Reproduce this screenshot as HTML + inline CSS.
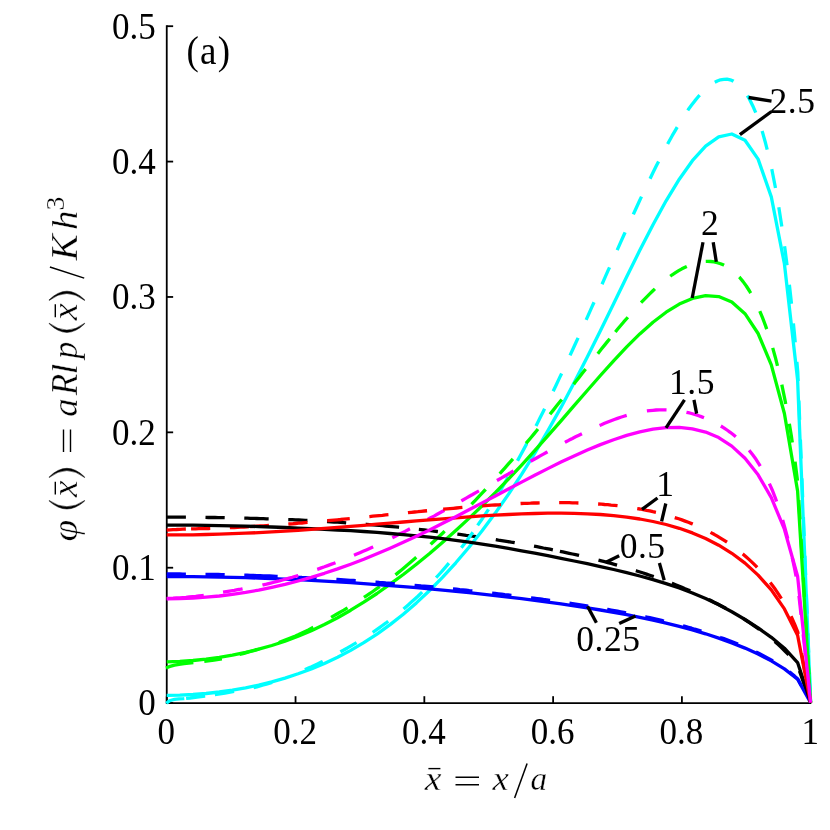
<!DOCTYPE html><html><head><meta charset="utf-8"><style>html,body{margin:0;padding:0;background:#fff}svg{display:block}</style></head><body><svg width="830" height="830" viewBox="0 0 830 830">
<rect width="830" height="830" fill="#fff"/>
<g stroke="#000" stroke-width="1.8" fill="none">
<path d="M166.75,25.3V703.1H811.3"/>
<path d="M166.75,703.10h6.4"/>
<path d="M166.75,567.72h6.4"/>
<path d="M166.75,432.34h6.4"/>
<path d="M166.75,296.96h6.4"/>
<path d="M166.75,161.58h6.4"/>
<path d="M166.75,26.20h6.4"/>
<path d="M166.75,703.1v-6.9"/>
<path d="M295.54,703.1v-6.9"/>
<path d="M424.33,703.1v-6.9"/>
<path d="M553.12,703.1v-6.9"/>
<path d="M681.91,703.1v-6.9"/>
<path d="M810.70,703.1v-6.9"/>
</g>
<g>
<polyline points="166.7,517.2 169.9,517.2 173.1,517.2 176.4,517.2 179.6,517.2 182.8,517.2 186.0,517.2 189.2,517.3 192.5,517.3 195.7,517.3 198.9,517.3 202.1,517.4 205.3,517.4 208.6,517.5 211.8,517.5 215.0,517.5 218.2,517.6 221.4,517.6 224.7,517.7 227.9,517.8 231.1,517.8 234.3,517.9 237.5,518.0 240.8,518.0 244.0,518.1 247.2,518.2 250.4,518.3 253.6,518.4 256.9,518.5 260.1,518.6 263.3,518.7 266.5,518.8 269.7,518.9 273.0,519.0 276.2,519.1 279.4,519.2 282.6,519.3 285.8,519.5 289.1,519.6 292.3,519.7 295.5,519.9 298.7,520.0 301.9,520.2 305.2,520.4 308.4,520.5 311.6,520.7 314.8,520.9 318.0,521.0 321.3,521.2 324.5,521.4 327.7,521.6 330.9,521.8 334.1,522.0 337.4,522.2 340.6,522.4 343.8,522.6 347.0,522.9 350.2,523.1 353.5,523.3 356.7,523.6 359.9,523.8 363.1,524.1 366.3,524.3 369.6,524.6 372.8,524.9 376.0,525.1 379.2,525.4 382.4,525.7 385.7,526.0 388.9,526.3 392.1,526.6 395.3,526.9 398.5,527.2 401.8,527.6 405.0,527.9 408.2,528.2 411.4,528.6 414.6,528.9 417.9,529.3 421.1,529.6 424.3,530.0 427.5,530.4 430.7,530.7 434.0,531.1 437.2,531.5 440.4,531.9 443.6,532.3 446.8,532.7 450.1,533.1 453.3,533.5 456.5,534.0 459.7,534.4 462.9,534.8 466.2,535.3 469.4,535.7 472.6,536.2 475.8,536.6 479.0,537.1 482.3,537.6 485.5,538.1 488.7,538.5 491.9,539.0 495.1,539.5 498.4,540.1 501.6,540.6 504.8,541.1 508.0,541.6 511.2,542.2 514.5,542.7 517.7,543.3 520.9,543.8 524.1,544.4 527.3,545.0 530.6,545.5 533.8,546.1 537.0,546.7 540.2,547.3 543.4,548.0 546.7,548.6 549.9,549.2 553.1,549.9 556.3,550.5 559.5,551.2 562.8,551.9 566.0,552.6 569.2,553.3 572.4,554.0 575.6,554.7 578.9,555.4 582.1,556.2 585.3,556.9 588.5,557.7 591.7,558.5 595.0,559.3 598.2,560.1 601.4,560.9 604.6,561.7 607.8,562.6 611.1,563.4 614.3,564.3 617.5,565.2 620.7,566.1 623.9,567.1 627.2,568.0 630.4,569.0 633.6,570.0 636.8,571.0 640.0,572.0 643.3,573.0 646.5,574.1 649.7,575.2 652.9,576.3 656.1,577.4 659.4,578.6 662.6,579.8 665.8,581.0 669.0,582.2 672.2,583.4 675.5,584.7 678.7,586.0 681.9,587.3 685.1,588.7 688.3,590.0 691.6,591.4 694.8,592.9 698.0,594.4 701.2,595.8 704.4,597.4 707.7,598.9 710.9,600.5 714.1,602.2 717.3,603.8 720.5,605.5 723.8,607.3 727.0,609.0 730.2,610.8 733.4,612.7 736.6,614.6 739.9,616.6 743.1,618.5 746.3,620.6 749.5,622.7 752.7,624.8 756.0,627.1 759.2,629.3 762.4,631.7 765.6,634.1 768.8,636.7 772.1,639.3 775.3,642.0 778.5,644.8 781.7,647.8 784.9,651.0 788.2,654.3 791.4,657.9 794.6,661.8 797.8,666.2 810.6,702.6" fill="none" stroke="#000000" stroke-width="3.3" stroke-linejoin="round" stroke-dasharray="19.2 19.6 19.2 19.6 24.4 19.6 19.2 19.6 19.2 19.6 33.5 19.9 19.2 19.6 19.2 19.6 19.2 19.6 19.2 7.2 19.6 20.0 19.2 19.6 18.9 19.3 19.9 20.3 19.7 20.1 19.2 19.6 19.2 19.6 19.2 1000.0"/>
<polyline points="166.7,695.4 179.8,695.2 193.0,694.5 206.1,693.5 219.3,692.0 232.4,690.2 245.6,687.8 258.7,685.1 271.8,681.8 285.0,678.1 298.1,673.8 311.3,669.0 324.4,663.5 337.6,657.3 350.7,650.4 363.8,642.6 377.0,634.1 390.1,624.6 403.3,614.2 416.4,602.9 429.6,590.5 442.7,577.2 455.8,562.8 469.0,547.3 482.1,530.8 495.3,513.1 508.4,494.4 521.6,474.4 534.7,453.3 547.8,430.9 561.0,407.4 574.1,382.7 587.3,357.1 600.4,330.7 613.6,303.8 626.7,276.8 639.8,250.3 653.0,224.7 666.1,200.8 679.3,179.2 692.4,160.7 705.6,146.2 718.7,136.8 731.8,134.0 745.0,140.2 758.1,159.1 771.3,196.9 784.4,263.8 797.6,379.7 810.6,702.6" fill="none" stroke="#00ffff" stroke-width="3.3" stroke-linejoin="round"/>
<polyline points="166.6,703.7 167.6,702.2 169.6,700.8 172.0,700.0 174.5,699.4 179.0,698.9 183.6,698.6 190.0,698.0 197.0,697.1 204.8,696.0 214.9,694.6 225.0,693.0 234.2,691.4 240.8,690.4 244.0,689.7 247.2,689.1 250.4,688.4 253.6,687.6 256.9,686.8 260.1,685.9 263.3,685.0 266.5,684.1 269.7,683.2 273.0,682.1 276.2,681.1 279.4,679.9 282.6,678.8 285.8,677.6 289.1,676.4 292.3,675.1 295.5,673.7 298.7,672.4 301.9,670.9 305.2,669.5 308.4,668.1 311.6,666.7 314.8,665.2 318.0,663.7 321.3,662.1 324.5,660.5 327.7,658.8 330.9,657.1 334.1,655.4 337.4,653.6 340.6,651.7 343.8,650.0 347.0,648.2 350.2,646.3 353.5,644.4 356.7,642.5 359.9,640.6 363.1,638.6 366.3,636.5 369.6,634.4 372.8,632.3 376.0,630.1 379.2,627.8 382.4,625.5 385.7,623.2 388.9,620.7 392.1,618.3 395.3,615.7 398.5,613.1 401.8,610.5 405.0,607.7 408.2,604.9 411.4,602.1 414.6,599.2 417.9,596.2 421.1,593.1 424.3,589.9 427.5,586.7 430.7,583.4 434.0,580.0 437.2,576.5 440.4,573.0 443.6,569.3 446.8,565.6 450.1,561.8 453.3,557.9 456.5,553.9 459.7,549.8 462.9,545.7 466.2,541.4 469.4,537.1 472.6,532.6 475.8,528.1 479.0,523.4 482.3,518.7 485.5,513.9 488.7,509.0 491.9,503.9 495.1,498.8 498.4,493.6 501.6,488.3 504.8,482.9 508.0,477.4 511.2,471.8 514.5,466.2 517.7,460.4 520.9,454.5 524.1,448.6 527.3,442.6 530.6,436.5 533.8,430.3 537.0,424.0 540.2,417.6 543.4,411.2 546.7,404.7 549.9,398.1 553.1,391.4 556.3,384.7 559.5,377.9 562.8,371.1 566.0,364.2 569.2,357.2 572.4,350.2 575.6,343.2 578.9,336.1 582.1,329.0 585.3,321.8 588.5,314.6 591.7,307.4 595.0,300.2 598.2,292.9 601.4,285.7 604.6,278.4 607.8,271.1 611.1,263.9 614.3,256.6 617.5,249.4 620.7,242.2 623.9,235.0 627.2,227.8 630.4,220.7 633.6,213.7 636.8,206.7 640.0,199.7 643.3,192.9 646.5,186.1 649.7,179.4 652.9,172.8 656.1,166.3 659.4,159.9 662.6,153.6 665.8,147.5 669.0,141.5 672.2,135.7 675.5,130.1 678.7,124.7 681.9,119.4 685.1,114.4 688.3,109.6 691.6,105.1 694.8,100.9 698.0,97.0 701.2,93.3 704.4,90.1 707.7,87.2 710.9,84.6 714.1,82.6 717.3,81.0 720.5,79.8 723.8,79.3 727.0,79.2 730.2,79.8 733.4,81.1 736.6,83.1 739.9,85.8 743.1,89.4 746.3,93.8 749.5,99.2 752.7,105.7 756.0,113.2 759.2,121.9 762.4,131.9 765.6,143.3 768.8,156.2 772.1,170.7 775.3,187.0 778.5,205.3 781.7,225.8 784.9,248.6 788.2,274.2 791.4,302.9 794.6,335.4 797.8,372.5 810.6,702.6" fill="none" stroke="#00ffff" stroke-width="3.3" stroke-linejoin="round" stroke-dasharray="19.2 1.8 19.2 9.8 19.5 19.9 19.2 35.2 19.7 20.1 18.6 19.0 19.2 19.6 25.2 20.0 19.4 19.8 19.2 8.4 19.5 19.9 18.1 18.5 19.5 19.9 19.2 19.6 19.6 20.0 19.3 19.7 19.3 19.7 18.5 18.9 19.4 19.8 19.5 19.9 19.2 19.6 19.4 19.8 19.5 19.9 19.7 20.1 19.0 19.4 19.5 19.9 19.2 19.6 19.5 19.9 19.2 19.6 19.2 19.6 19.2 19.6 19.2 19.6 19.2 19.6 19.2 19.6 19.2 19.6 19.2 19.6 19.2 19.6 19.2 19.6 19.2 19.6 19.2 1000.0"/>
<polyline points="166.7,661.8 179.8,661.3 193.0,660.5 206.1,659.2 219.3,657.4 232.4,655.1 245.6,652.3 258.7,649.2 271.8,645.5 285.0,641.2 298.1,636.3 311.3,630.7 324.4,624.5 337.6,617.7 350.7,610.2 363.8,602.1 377.0,593.5 390.1,584.2 403.3,574.5 416.4,564.2 429.6,553.5 442.7,542.2 455.8,530.5 469.0,518.4 482.1,505.8 495.3,492.7 508.4,479.1 521.6,465.1 534.7,450.7 547.8,435.9 561.0,420.9 574.1,405.7 587.3,390.5 600.4,375.5 613.6,360.8 626.7,346.9 639.8,333.9 653.0,322.2 666.1,312.2 679.3,304.1 692.4,298.4 705.6,295.7 718.7,296.6 731.8,302.1 745.0,313.7 758.1,333.5 771.3,364.9 784.4,413.5 797.6,491.0 810.6,702.6" fill="none" stroke="#00ff00" stroke-width="3.3" stroke-linejoin="round"/>
<polyline points="166.0,668.0 167.8,667.2 170.0,666.4 174.5,665.2 179.0,664.4 184.1,663.7 193.7,662.6 204.3,661.3 214.0,660.0 222.7,658.8 231.1,656.5 234.3,655.7 237.5,654.9 240.8,654.1 244.0,653.3 247.2,652.4 250.4,651.5 253.6,650.6 256.9,649.7 260.1,648.7 263.3,647.7 266.5,646.7 269.7,645.6 273.0,644.6 276.2,643.4 279.4,642.3 282.6,641.1 285.8,639.9 289.1,638.6 292.3,637.3 295.5,636.0 298.7,634.6 301.9,633.1 305.2,631.5 308.4,629.9 311.6,628.2 314.8,626.5 318.0,624.7 321.3,623.0 324.5,621.2 327.7,619.3 330.9,617.5 334.1,615.6 337.4,613.7 340.6,611.9 343.8,610.1 347.0,608.2 350.2,606.3 353.5,604.3 356.7,602.2 359.9,600.1 363.1,598.0 366.3,595.9 369.6,593.7 372.8,591.5 376.0,589.2 379.2,587.0 382.4,584.7 385.7,582.4 388.9,580.0 392.1,577.5 395.3,575.0 398.5,572.4 401.8,569.7 405.0,567.0 408.2,564.3 411.4,561.6 414.6,558.8 417.9,555.9 421.1,553.1 424.3,550.2 427.5,547.3 430.7,544.3 434.0,541.3 437.2,538.3 440.4,535.3 443.6,532.2 446.8,529.1 450.1,525.9 453.3,522.8 456.5,519.6 459.7,516.3 462.9,513.1 466.2,509.8 469.4,506.5 472.6,503.1 475.8,499.8 479.0,496.4 482.3,492.9 485.5,489.5 488.7,486.0 491.9,482.5 495.1,478.9 498.4,475.3 501.6,471.7 504.8,468.1 508.0,464.4 511.2,460.8 514.5,457.0 517.7,453.3 520.9,449.5 524.1,445.7 527.3,441.9 530.6,438.0 533.8,434.1 537.0,430.2 540.2,426.3 543.4,422.4 546.7,418.4 549.9,414.4 553.1,410.4 556.3,406.3 559.5,402.3 562.8,398.2 566.0,394.1 569.2,390.0 572.4,386.0 575.6,381.8 578.9,377.7 582.1,373.6 585.3,369.5 588.5,365.4 591.7,361.3 595.0,357.2 598.2,353.2 601.4,349.1 604.6,345.1 607.8,341.1 611.1,337.2 614.3,333.2 617.5,329.3 620.7,325.5 623.9,321.7 627.2,318.0 630.4,314.3 633.6,310.7 636.8,307.2 640.0,303.7 643.3,300.3 646.5,297.1 649.7,293.9 652.9,290.8 656.1,287.8 659.4,285.0 662.6,282.2 665.8,279.6 669.0,277.2 672.2,274.8 675.5,272.7 678.7,270.7 681.9,268.8 685.1,267.2 688.3,265.7 691.6,264.4 694.8,263.4 698.0,262.5 701.2,261.9 704.4,261.5 707.7,261.4 710.9,261.5 714.1,261.9 717.3,262.7 720.5,263.7 723.8,265.1 727.0,266.8 730.2,268.9 733.4,271.4 736.6,274.3 739.9,277.7 743.1,281.6 746.3,286.0 749.5,291.0 752.7,296.5 756.0,302.8 759.2,309.7 762.4,317.4 765.6,325.9 768.8,335.3 772.1,345.7 775.3,357.2 778.5,370.0 781.7,384.0 784.9,399.6 788.2,417.0 791.4,436.3 794.6,458.1 797.8,482.9 810.6,702.6" fill="none" stroke="#00ff00" stroke-width="3.3" stroke-linejoin="round" stroke-dasharray="28.0 11.0 17.8 18.2 20.3 20.7 37.8 20.4 19.0 19.4 19.2 19.6 27.2 19.4 19.2 38.0 20.6 21.0 19.9 20.3 18.6 19.0 19.0 19.4 19.2 19.6 19.2 8.8 19.3 19.7 19.5 19.9 19.3 19.7 18.9 19.3 19.8 20.2 19.3 19.7 18.7 19.1 19.8 20.2 18.9 19.3 19.2 19.6 19.2 19.6 19.2 19.6 19.2 19.6 19.2 19.6 19.2 19.6 8.7 1000.0"/>
<polyline points="166.7,576.5 179.8,576.6 193.0,576.7 206.1,576.8 219.3,577.1 232.4,577.3 245.6,577.7 258.7,578.1 271.8,578.6 285.0,579.1 298.1,579.7 311.3,580.4 324.4,581.1 337.6,581.9 350.7,582.7 363.8,583.6 377.0,584.6 390.1,585.6 403.3,586.6 416.4,587.7 429.6,588.9 442.7,590.1 455.8,591.4 469.0,592.7 482.1,594.1 495.3,595.6 508.4,597.1 521.6,598.7 534.7,600.4 547.8,602.1 561.0,603.9 574.1,605.8 587.3,607.8 600.4,610.0 613.6,612.3 626.7,614.7 639.8,617.3 653.0,620.1 666.1,623.1 679.3,626.4 692.4,629.9 705.6,633.8 718.7,638.1 731.8,642.9 745.0,648.1 758.1,654.1 771.3,660.9 784.4,668.9 797.6,679.2 810.6,702.6" fill="none" stroke="#0000ff" stroke-width="3.3" stroke-linejoin="round"/>
<polyline points="166.7,574.0 169.9,574.0 173.1,574.0 176.4,574.0 179.6,574.0 182.8,574.1 186.0,574.1 189.2,574.1 192.5,574.1 195.7,574.2 198.9,574.2 202.1,574.3 205.3,574.3 208.6,574.3 211.8,574.4 215.0,574.5 218.2,574.5 221.4,574.6 224.7,574.7 227.9,574.7 231.1,574.8 234.3,574.9 237.5,575.0 240.8,575.1 244.0,575.1 247.2,575.2 250.4,575.3 253.6,575.4 256.9,575.6 260.1,575.7 263.3,575.8 266.5,575.9 269.7,576.0 273.0,576.1 276.2,576.3 279.4,576.4 282.6,576.5 285.8,576.7 289.1,576.8 292.3,577.0 295.5,577.1 298.7,577.3 301.9,577.5 305.2,577.6 308.4,577.8 311.6,578.0 314.8,578.1 318.0,578.3 321.3,578.5 324.5,578.7 327.7,578.9 330.9,579.1 334.1,579.3 337.4,579.5 340.6,579.7 343.8,579.9 347.0,580.1 350.2,580.3 353.5,580.5 356.7,580.7 359.9,580.9 363.1,581.2 366.3,581.4 369.6,581.6 372.8,581.9 376.0,582.1 379.2,582.4 382.4,582.6 385.7,582.9 388.9,583.1 392.1,583.4 395.3,583.6 398.5,583.9 401.8,584.2 405.0,584.4 408.2,584.7 411.4,585.0 414.6,585.3 417.9,585.6 421.1,585.9 424.3,586.1 427.5,586.4 430.7,586.7 434.0,587.0 437.2,587.3 440.4,587.7 443.6,588.0 446.8,588.3 450.1,588.6 453.3,588.9 456.5,589.2 459.7,589.6 462.9,589.9 466.2,590.2 469.4,590.6 472.6,590.9 475.8,591.3 479.0,591.6 482.3,592.0 485.5,592.3 488.7,592.7 491.9,593.1 495.1,593.4 498.4,593.8 501.6,594.2 504.8,594.6 508.0,594.9 511.2,595.3 514.5,595.7 517.7,596.1 520.9,596.5 524.1,596.9 527.3,597.3 530.6,597.8 533.8,598.2 537.0,598.6 540.2,599.0 543.4,599.5 546.7,599.9 549.9,600.4 553.1,600.8 556.3,601.3 559.5,601.7 562.8,602.2 566.0,602.7 569.2,603.1 572.4,603.6 575.6,604.1 578.9,604.6 582.1,605.1 585.3,605.6 588.5,606.1 591.7,606.7 595.0,607.2 598.2,607.7 601.4,608.3 604.6,608.9 607.8,609.4 611.1,610.0 614.3,610.6 617.5,611.2 620.7,611.8 623.9,612.4 627.2,613.0 630.4,613.6 633.6,614.3 636.8,615.0 640.0,615.6 643.3,616.3 646.5,617.0 649.7,617.7 652.9,618.4 656.1,619.1 659.4,619.9 662.6,620.7 665.8,621.4 669.0,622.2 672.2,623.0 675.5,623.8 678.7,624.7 681.9,625.5 685.1,626.4 688.3,627.3 691.6,628.2 694.8,629.2 698.0,630.1 701.2,631.1 704.4,632.1 707.7,633.1 710.9,634.2 714.1,635.2 717.3,636.3 720.5,637.5 723.8,638.6 727.0,639.8 730.2,641.0 733.4,642.3 736.6,643.6 739.9,644.9 743.1,646.2 746.3,647.6 749.5,649.0 752.7,650.5 756.0,652.0 759.2,653.6 762.4,655.2 765.6,656.9 768.8,658.7 772.1,660.5 775.3,662.4 778.5,664.4 781.7,666.4 784.9,668.6 788.2,670.9 791.4,673.4 794.6,676.1 797.8,679.0 810.6,702.6" fill="none" stroke="#0000ff" stroke-width="3.3" stroke-linejoin="round" stroke-dasharray="19.2 19.6 19.2 19.6 33.4 19.6 19.4 19.8 19.4 19.8 19.4 19.8 19.1 19.5 19.5 19.9 19.4 19.8 19.2 19.6 18.9 19.3 19.2 19.6 19.2 19.6 19.2 19.6 19.2 19.6 19.2 19.6 19.2 1000.0"/>
<polyline points="166.7,598.5 169.9,598.3 173.1,598.2 176.4,598.0 179.6,597.8 182.8,597.6 186.0,597.4 189.2,597.0 192.5,596.7 195.7,596.4 198.9,596.0 202.1,595.6 205.3,595.2 208.6,594.6 211.8,594.1 215.0,593.5 218.2,592.9 221.4,592.3 224.7,591.8 227.9,591.3 231.1,590.8 234.3,590.3 237.5,589.7 240.8,589.2 244.0,588.6 247.2,588.1 250.4,587.5 253.6,586.9 256.9,586.3 260.1,585.6 263.3,584.8 266.5,584.1 269.7,583.3 273.0,582.5 276.2,581.7 279.4,580.9 282.6,580.0 285.8,579.1 289.1,578.2 292.3,577.3 295.5,576.3 298.7,575.4 301.9,574.4 305.2,573.4 308.4,572.3 311.6,571.3 314.8,570.2 318.0,569.1 321.3,567.9 324.5,566.8 327.7,565.6 330.9,564.4 334.1,563.2 337.4,562.0 340.6,560.7 343.8,559.4 347.0,558.1 350.2,556.8 353.5,555.5 356.7,554.1 359.9,552.7 363.1,551.3 366.3,549.9 369.6,548.4 372.8,547.0 376.0,545.5 379.2,544.0 382.4,542.5 385.7,540.9 388.9,539.4 392.1,537.8 395.3,536.2 398.5,534.6 401.8,533.0 405.0,531.4 408.2,529.7 411.4,528.1 414.6,526.4 417.9,524.7 421.1,523.0 424.3,521.3 427.5,519.6 430.7,517.8 434.0,516.1 437.2,514.3 440.4,512.5 443.6,510.8 446.8,509.0 450.1,507.2 453.3,505.4 456.5,503.6 459.7,501.8 462.9,500.0 466.2,498.1 469.4,496.3 472.6,494.5 475.8,492.6 479.0,490.8 482.3,489.0 485.5,487.1 488.7,485.3 491.9,483.4 495.1,481.6 498.4,479.7 501.6,477.9 504.8,476.0 508.0,474.2 511.2,472.3 514.5,470.5 517.7,468.7 520.9,466.8 524.1,465.0 527.3,463.2 530.6,461.3 533.8,459.5 537.0,457.7 540.2,455.9 543.4,454.1 546.7,452.3 549.9,450.5 553.1,448.8 556.3,447.0 559.5,445.3 562.8,443.5 566.0,441.8 569.2,440.1 572.4,438.5 575.6,436.8 578.9,435.2 582.1,433.6 585.3,432.0 588.5,430.5 591.7,429.0 595.0,427.5 598.2,426.0 601.4,424.7 604.6,423.3 607.8,422.0 611.1,420.7 614.3,419.5 617.5,418.4 620.7,417.3 623.9,416.3 627.2,415.3 630.4,414.4 633.6,413.6 636.8,412.8 640.0,412.1 643.3,411.5 646.5,411.0 649.7,410.6 652.9,410.3 656.1,410.0 659.4,409.8 662.6,409.8 665.8,409.8 669.0,409.9 672.2,410.1 675.5,410.4 678.7,410.9 681.9,411.4 685.1,412.0 688.3,412.7 691.6,413.5 694.8,414.5 698.0,415.5 701.2,416.6 704.4,417.9 707.7,419.2 710.9,420.7 714.1,422.3 717.3,424.0 720.5,425.8 723.8,427.8 727.0,430.0 730.2,432.3 733.4,434.8 736.6,437.5 739.9,440.4 743.1,443.5 746.3,447.0 749.5,450.7 752.7,454.8 756.0,459.3 759.2,464.3 762.4,469.7 765.6,475.7 768.8,482.4 772.1,489.7 775.3,497.8 778.5,506.8 781.7,516.8 784.9,527.9 788.2,540.1 791.4,553.6 794.6,568.6 797.8,585.3 810.6,702.6" fill="none" stroke="#ff00ff" stroke-width="3.3" stroke-linejoin="round" stroke-dasharray="37.2 19.6 19.8 20.2 37.1 19.9 19.5 19.9 20.9 21.3 19.7 20.1 19.0 19.4 20.3 20.7 19.2 19.6 19.4 19.8 19.1 19.5 28.9 20.7 19.7 20.1 18.4 18.8 18.5 18.9 19.4 19.8 19.2 19.6 19.2 19.6 19.2 19.6 19.2 19.6 19.2 19.6 19.2 1000.0"/>
<polyline points="166.7,530.2 169.9,529.9 173.1,529.6 176.4,529.5 179.6,529.3 182.8,529.1 186.0,529.0 189.2,528.9 192.5,528.8 195.7,528.8 198.9,528.7 202.1,528.6 205.3,528.6 208.6,528.5 211.8,528.4 215.0,528.3 218.2,528.1 221.4,528.0 224.7,527.9 227.9,527.8 231.1,527.6 234.3,527.5 237.5,527.3 240.8,527.2 244.0,527.0 247.2,526.8 250.4,526.6 253.6,526.4 256.9,526.2 260.1,526.0 263.3,525.8 266.5,525.6 269.7,525.4 273.0,525.2 276.2,525.0 279.4,524.7 282.6,524.5 285.8,524.3 289.1,524.0 292.3,523.8 295.5,523.5 298.7,523.2 301.9,523.0 305.2,522.7 308.4,522.4 311.6,522.1 314.8,521.9 318.0,521.6 321.3,521.3 324.5,521.0 327.7,520.7 330.9,520.4 334.1,520.1 337.4,519.8 340.6,519.5 343.8,519.1 347.0,518.8 350.2,518.5 353.5,518.2 356.7,517.9 359.9,517.6 363.1,517.2 366.3,516.9 369.6,516.6 372.8,516.2 376.0,515.9 379.2,515.6 382.4,515.3 385.7,514.9 388.9,514.6 392.1,514.3 395.3,513.9 398.5,513.6 401.8,513.3 405.0,513.0 408.2,512.6 411.4,512.3 414.6,512.0 417.9,511.7 421.1,511.3 424.3,511.0 427.5,510.7 430.7,510.4 434.0,510.1 437.2,509.8 440.4,509.5 443.6,509.2 446.8,508.9 450.1,508.6 453.3,508.3 456.5,508.0 459.7,507.7 462.9,507.4 466.2,507.2 469.4,506.9 472.6,506.6 475.8,506.4 479.0,506.1 482.3,505.9 485.5,505.6 488.7,505.4 491.9,505.2 495.1,505.0 498.4,504.8 501.6,504.6 504.8,504.4 508.0,504.2 511.2,504.0 514.5,503.8 517.7,503.7 520.9,503.5 524.1,503.4 527.3,503.3 530.6,503.2 533.8,503.0 537.0,503.0 540.2,502.9 543.4,502.8 546.7,502.7 549.9,502.7 553.1,502.7 556.3,502.7 559.5,502.7 562.8,502.7 566.0,502.7 569.2,502.7 572.4,502.8 575.6,502.9 578.9,503.0 582.1,503.1 585.3,503.2 588.5,503.4 591.7,503.6 595.0,503.8 598.2,504.0 601.4,504.2 604.6,504.5 607.8,504.7 611.1,505.1 614.3,505.4 617.5,505.7 620.7,506.1 623.9,506.5 627.2,507.0 630.4,507.4 633.6,507.9 636.8,508.5 640.0,509.0 643.3,509.6 646.5,510.3 649.7,510.9 652.9,511.7 656.1,512.4 659.4,513.2 662.6,514.0 665.8,514.9 669.0,515.8 672.2,516.8 675.5,517.8 678.7,518.8 681.9,519.9 685.1,521.1 688.3,522.3 691.6,523.6 694.8,524.9 698.0,526.3 701.2,527.8 704.4,529.3 707.7,530.9 710.9,532.6 714.1,534.3 717.3,536.2 720.5,538.1 723.8,540.1 727.0,542.2 730.2,544.4 733.4,546.7 736.6,549.1 739.9,551.6 743.1,554.2 746.3,557.0 749.5,559.9 752.7,562.9 756.0,566.1 759.2,569.5 762.4,573.0 765.6,576.7 768.8,580.7 772.1,584.9 775.3,589.3 778.5,594.1 781.7,599.2 784.9,604.6 788.2,610.5 791.4,617.0 794.6,624.1 797.8,632.1 810.6,702.6" fill="none" stroke="#ff0000" stroke-width="3.3" stroke-linejoin="round" stroke-dasharray="19.2 5.2 19.2 19.6 19.2 1.0 19.0 19.4 19.3 19.7 22.7 19.7 19.2 19.6 19.2 16.2 19.3 19.7 19.1 19.5 19.1 19.5 19.3 19.7 19.5 19.9 19.1 19.5 19.2 19.6 19.2 19.6 19.7 20.1 19.6 20.0 19.2 19.6 19.2 19.6 11.3 1000.0"/>
<polyline points="166.7,525.1 179.8,525.1 193.0,525.2 206.1,525.4 219.3,525.6 232.4,525.9 245.6,526.2 258.7,526.6 271.8,527.0 285.0,527.5 298.1,528.1 311.3,528.6 324.4,529.3 337.6,530.0 350.7,530.7 363.8,531.5 377.0,532.4 390.1,533.5 403.3,534.6 416.4,535.8 429.6,537.2 442.7,538.7 455.8,540.4 469.0,542.2 482.1,544.1 495.3,546.2 508.4,548.4 521.6,550.8 534.7,553.2 547.8,555.7 561.0,558.3 574.1,561.0 587.3,563.7 600.4,566.6 613.6,569.5 626.7,572.6 639.8,576.0 653.0,579.6 666.1,583.6 679.3,588.0 692.4,593.0 705.6,598.6 718.7,604.8 731.8,611.8 745.0,619.5 758.1,627.9 771.3,637.3 784.4,648.2 797.6,662.6 810.6,702.6" fill="none" stroke="#000000" stroke-width="3.3" stroke-linejoin="round"/>
<polyline points="166.7,534.9 179.8,534.9 193.0,534.8 206.1,534.5 219.3,534.2 232.4,533.7 245.6,533.2 258.7,532.6 271.8,531.9 285.0,531.1 298.1,530.3 311.3,529.4 324.4,528.4 337.6,527.4 350.7,526.4 363.8,525.3 377.0,524.2 390.1,523.1 403.3,522.0 416.4,520.9 429.6,519.8 442.7,518.8 455.8,517.8 469.0,516.8 482.1,515.9 495.3,515.1 508.4,514.5 521.6,513.9 534.7,513.5 547.8,513.2 561.0,513.2 574.1,513.4 587.3,513.8 600.4,514.5 613.6,515.6 626.7,517.1 639.8,519.0 653.0,521.5 666.1,524.5 679.3,528.3 692.4,532.9 705.6,538.5 718.7,545.2 731.8,553.3 745.0,563.1 758.1,575.1 771.3,589.9 784.4,608.9 797.6,635.3 810.6,702.6" fill="none" stroke="#ff0000" stroke-width="3.3" stroke-linejoin="round"/>
<polyline points="166.7,598.8 179.8,598.6 193.0,598.1 206.1,597.2 219.3,596.0 232.4,594.4 245.6,592.4 258.7,590.1 271.8,587.4 285.0,584.4 298.1,581.0 311.3,577.3 324.4,573.3 337.6,568.9 350.7,564.2 363.8,559.2 377.0,553.8 390.1,548.2 403.3,542.3 416.4,536.2 429.6,529.9 442.7,523.3 455.8,516.7 469.0,509.8 482.1,502.9 495.3,496.0 508.4,489.0 521.6,482.1 534.7,475.3 547.8,468.6 561.0,462.1 574.1,455.9 587.3,450.0 600.4,444.6 613.6,439.7 626.7,435.4 639.8,431.8 653.0,429.2 666.1,427.7 679.3,427.4 692.4,428.8 705.6,432.1 718.7,437.6 731.8,446.1 745.0,458.2 758.1,474.8 771.3,497.6 784.4,529.2 797.6,576.2 810.6,702.6" fill="none" stroke="#ff00ff" stroke-width="3.3" stroke-linejoin="round"/>
</g>
<g font-family="'Liberation Serif', serif" fill="#000" style="filter:grayscale(1)">
<text transform="translate(155.70,715.40) scale(1,1.060)" font-size="35" text-anchor="end">0</text>
<text transform="translate(155.70,580.02) scale(1,1.060)" font-size="35" text-anchor="end">0.1</text>
<text transform="translate(155.70,444.64) scale(1,1.060)" font-size="35" text-anchor="end">0.2</text>
<text transform="translate(155.70,309.26) scale(1,1.060)" font-size="35" text-anchor="end">0.3</text>
<text transform="translate(155.70,173.88) scale(1,1.060)" font-size="35" text-anchor="end">0.4</text>
<text transform="translate(155.70,38.50) scale(1,1.060)" font-size="35" text-anchor="end">0.5</text>
<text transform="translate(166.25,743.50) scale(1,1.060)" font-size="35" text-anchor="middle">0</text>
<text transform="translate(295.04,743.50) scale(1,1.060)" font-size="35" text-anchor="middle">0.2</text>
<text transform="translate(423.83,743.50) scale(1,1.060)" font-size="35" text-anchor="middle">0.4</text>
<text transform="translate(552.62,743.50) scale(1,1.060)" font-size="35" text-anchor="middle">0.6</text>
<text transform="translate(681.41,743.50) scale(1,1.060)" font-size="35" text-anchor="middle">0.8</text>
<text transform="translate(810.20,743.50) scale(1,1.060)" font-size="35" text-anchor="middle">1</text>
<text transform="translate(769.50,113.30) scale(1,1.000)" font-size="35.5" text-anchor="start" letter-spacing="0.5">2.5</text>
<text transform="translate(701.00,234.50) scale(1,1.000)" font-size="35.5" text-anchor="start">2</text>
<text transform="translate(669.00,394.20) scale(1,1.000)" font-size="35.5" text-anchor="start" letter-spacing="0.5">1.5</text>
<text transform="translate(656.30,496.30) scale(1,1.000)" font-size="35.5" text-anchor="start">1</text>
<text transform="translate(619.70,558.00) scale(1,1.000)" font-size="35.5" text-anchor="start" letter-spacing="0.5">0.5</text>
<text transform="translate(576.30,651.20) scale(1,1.000)" font-size="35.5" text-anchor="start" letter-spacing="0.5">0.25</text>
<text transform="translate(186.50,63.70) scale(1,1.080)" font-size="37" text-anchor="start" letter-spacing="1.2">(a)</text>
</g>
<g stroke="#000" stroke-width="3.3" fill="none">
<path d="M748.6,97.5L771.5,101.2"/>
<path d="M739.9,134.6L771.5,111.5"/>
<path d="M703.0,242.2L692.2,298.0"/>
<path d="M713.2,242.2L716.3,261.8"/>
<path d="M684.5,399.9L666.0,427.8"/>
<path d="M694.0,399.9L696.6,413.6"/>
<path d="M657.5,498.0L642.0,509.3"/>
<path d="M665.8,503.5L661.6,521.3"/>
<path d="M619.2,555.7L606.5,562.0"/>
<path d="M659.4,563.0L664.2,580.2"/>
<path d="M587.5,606.3L596.4,622.7"/>
<path d="M619.2,623.5L635.5,615.9"/>
</g>
<g font-family="'Liberation Serif', serif" fill="#000" transform="translate(0,789.7)" style="filter:grayscale(1)">
<text transform="translate(424.67,0) scale(1.079,0.988)" font-size="35.0" font-style="italic" stroke="#fff" stroke-width="0.35">x</text>
<path d="M428.4,-21.1h12" stroke="#000" stroke-width="1.4"/>
<path d="M455.5,-12.4h23.5M455.5,-5h23.5" stroke="#000" stroke-width="1.4"/>
<text transform="translate(492.56,0) scale(1.054,0.988)" font-size="35.0" font-style="italic" stroke="#fff" stroke-width="0.35">x</text>
<path d="M514.6,8.2L527.1,-26.3" stroke="#000" stroke-width="1.5"/>
<text transform="translate(530.40,0) scale(0.951,0.967)" font-size="35.0" font-style="italic" stroke="#fff" stroke-width="0.35">a</text>
</g>
<g font-family="'Liberation Serif', serif" fill="#000" transform="translate(76.5,541) rotate(-90)" style="filter:grayscale(1)">
<text transform="translate(-0.43,0) scale(1.120,0.998)" font-size="35.0" font-style="italic" stroke="#fff" stroke-width="0.35">φ</text>
<path d="M39.90,-27.30Q24.10,-9.60 39.90,8.10L40.50,8.10Q28.10,-9.60 40.50,-27.30Z" fill="#000" stroke="#000" stroke-width="0.5"/>
<text transform="translate(44.07,0) scale(1.067,1.025)" font-size="35.0" font-style="italic" stroke="#fff" stroke-width="0.35">x</text>
<path d="M46.5,-21.2h12.8" stroke="#000" stroke-width="1.4"/>
<path d="M64.10,-27.30Q81.30,-9.60 64.10,8.10L63.50,8.10Q77.30,-9.60 63.50,-27.30Z" fill="#000" stroke="#000" stroke-width="0.5"/>
<path d="M88.9,-13h22.6M88.9,-6h22.6" stroke="#000" stroke-width="1.4"/>
<text transform="translate(124.20,0) scale(1.044,1.003)" font-size="35.0" font-style="italic" stroke="#fff" stroke-width="0.35">a</text>
<text transform="translate(145.68,0) scale(1.005,1.064)" font-size="35.0" font-style="italic" stroke="#fff" stroke-width="0.35">R</text>
<text transform="translate(166.42,0) scale(1.120,1.003)" font-size="35.0" font-style="italic" stroke="#fff" stroke-width="0.35">l</text>
<text transform="translate(182.36,0) scale(0.975,1.003)" font-size="35.0" font-style="italic" stroke="#fff" stroke-width="0.35">p</text>
<path d="M217.20,-27.30Q200.00,-9.60 217.20,8.10L217.80,8.10Q204.00,-9.60 217.80,-27.30Z" fill="#000" stroke="#000" stroke-width="0.5"/>
<text transform="translate(220.68,0) scale(1.098,1.025)" font-size="35.0" font-style="italic" stroke="#fff" stroke-width="0.35">x</text>
<path d="M223.8,-21.2h12.9" stroke="#000" stroke-width="1.4"/>
<path d="M241.20,-27.30Q258.40,-9.60 241.20,8.10L240.60,8.10Q254.40,-9.60 240.60,-27.30Z" fill="#000" stroke="#000" stroke-width="0.5"/>
<path d="M262.9,7.7L274,-26.6" stroke="#000" stroke-width="1.5"/>
<text transform="translate(280.58,0) scale(1.120,1.064)" font-size="35.0" font-style="italic" stroke="#fff" stroke-width="0.35">K</text>
<text transform="translate(311.03,0) scale(1.116,1.003)" font-size="35.0" font-style="italic" stroke="#fff" stroke-width="0.35">h</text>
<g transform="translate(0,-12.9)"><text transform="translate(330.58,0) scale(0.797,0.746)" font-size="35.0" stroke="#fff" stroke-width="0.35">3</text></g>
</g>
</svg></body></html>
